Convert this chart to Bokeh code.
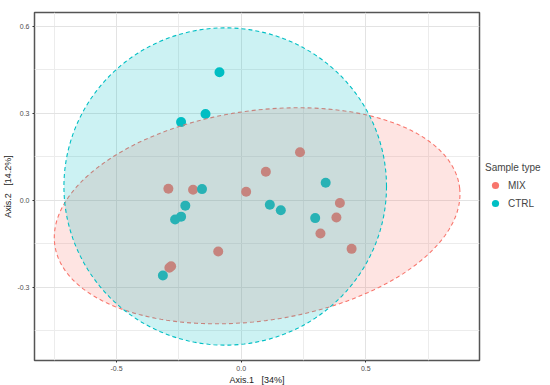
import numpy as np
from bokeh.plotting import figure
from bokeh.models import Range1d, FixedTicker, Legend, LegendItem, NumeralTickFormatter
from bokeh.embed import file_html
from bokeh.resources import INLINE

# ---- data ----
groups = ["MIX", "CTRL"]

mix_x = [0.236, 0.099, -0.292, -0.193, 0.020, 0.396, 0.382, 0.318, 0.443, -0.092, -0.281, -0.288]
mix_y = [0.166, 0.099, 0.040, 0.037, 0.030, -0.009, -0.059, -0.114, -0.167, -0.176, -0.227, -0.232]

ctrl_x = [-0.087, -0.143, -0.241, -0.157, 0.339, -0.224, -0.241, -0.265, 0.115, 0.159, 0.297, -0.314]
ctrl_y = [0.442, 0.298, 0.270, 0.039, 0.061, -0.018, -0.056, -0.066, -0.015, -0.034, -0.061, -0.259]

# confidence ellipses: centre, semi-axes, rotation (radians)
mix_ellipse = [0.064, -0.053, 0.818, 0.363, 0.1145]
ctrl_ellipse = [-0.064, 0.048, 0.647, 0.547, 0.0]

x_ticks = [-0.5, 0.0, 0.5]
x_minor = [-0.75, -0.25, 0.25, 0.75]
y_ticks = [-0.3, 0.0, 0.3, 0.6]
y_minor = [-0.45, -0.15, 0.15, 0.45]

x_label = "Axis.1 \u00a0 [34%]"
y_label = "Axis.2 \u00a0 [14.2%]"
legend_title = "Sample type"

colors = {"MIX": "#F8766D", "CTRL": "#00BFC4"}


def ellipse_pts(params, n=200):
    cx, cy, a, b, ang = params
    t = np.linspace(0, 2 * np.pi, n)
    ex = cx + a * np.cos(t) * np.cos(ang) - b * np.sin(t) * np.sin(ang)
    ey = cy + a * np.cos(t) * np.sin(ang) + b * np.sin(t) * np.cos(ang)
    return ex, ey


p = figure(
    frame_width=445, frame_height=348,
    x_range=Range1d(-0.829, 0.956), y_range=Range1d(-0.552, 0.648),
    output_backend="svg", toolbar_location=None,
    min_border_left=0, min_border_top=12, min_border_bottom=0, min_border_right=4,
)
p.background_fill_color = "white"
p.border_fill_color = "white"
p.outline_line_color = "#555555"
p.outline_line_width = 1.5

# points (drawn under the ellipse fills)
r_mix = p.scatter(mix_x, mix_y, size=10, color=colors["MIX"], line_color=None)
r_ctrl = p.scatter(ctrl_x, ctrl_y, size=10, color=colors["CTRL"], line_color=None)

for g, params in (("MIX", mix_ellipse), ("CTRL", ctrl_ellipse)):
    ex, ey = ellipse_pts(params)
    p.patch(ex, ey, fill_color=colors[g], fill_alpha=0.2,
            line_color=colors[g], line_dash="4 3", line_width=1.1)

p.xaxis.ticker = FixedTicker(ticks=x_ticks, minor_ticks=x_minor)
p.yaxis.ticker = FixedTicker(ticks=y_ticks, minor_ticks=y_minor)
p.xaxis.formatter = NumeralTickFormatter(format="0.0")
p.yaxis.formatter = NumeralTickFormatter(format="0.0")
p.xaxis.axis_label = x_label
p.yaxis.axis_label = y_label

for ax in (p.xaxis[0], p.yaxis[0]):
    ax.axis_line_color = None
    ax.major_tick_line_color = "#333333"
    ax.major_tick_out = 2
    ax.major_tick_in = 0
    ax.minor_tick_line_color = None
    ax.major_label_text_font = "Liberation Sans"
    ax.major_label_text_font_size = "7px"
    ax.major_label_text_color = "#4d4d4d"
    ax.major_label_standoff = 1
    ax.axis_label_text_font = "Liberation Sans"
    ax.axis_label_text_font_size = "9px"
    ax.axis_label_text_font_style = "normal"
    ax.axis_label_text_color = "#222222"
    ax.axis_label_standoff = 1

p.xgrid.grid_line_color = "#e3e3e3"
p.ygrid.grid_line_color = "#e3e3e3"
p.xgrid.minor_grid_line_color = "#ececec"
p.ygrid.minor_grid_line_color = "#ececec"

legend = Legend(
    items=[LegendItem(label="MIX", renderers=[r_mix]),
           LegendItem(label="CTRL", renderers=[r_ctrl])],
    title=legend_title,
    location=(6, 148),
)
legend.title_text_font = "Liberation Sans"
legend.title_text_font_size = "10px"
legend.title_text_font_style = "normal"
legend.label_text_font = "Liberation Sans"
legend.label_text_font_size = "10px"
legend.border_line_color = None
legend.background_fill_alpha = 0
legend.glyph_width = 20
legend.glyph_height = 18
legend.label_height = 14
legend.label_standoff = 3
legend.spacing = 0
legend.padding = 2
legend.margin = 6
legend.title_standoff = 3
p.add_layout(legend, "right")

open("out.html", "w").write(file_html(p, INLINE))
